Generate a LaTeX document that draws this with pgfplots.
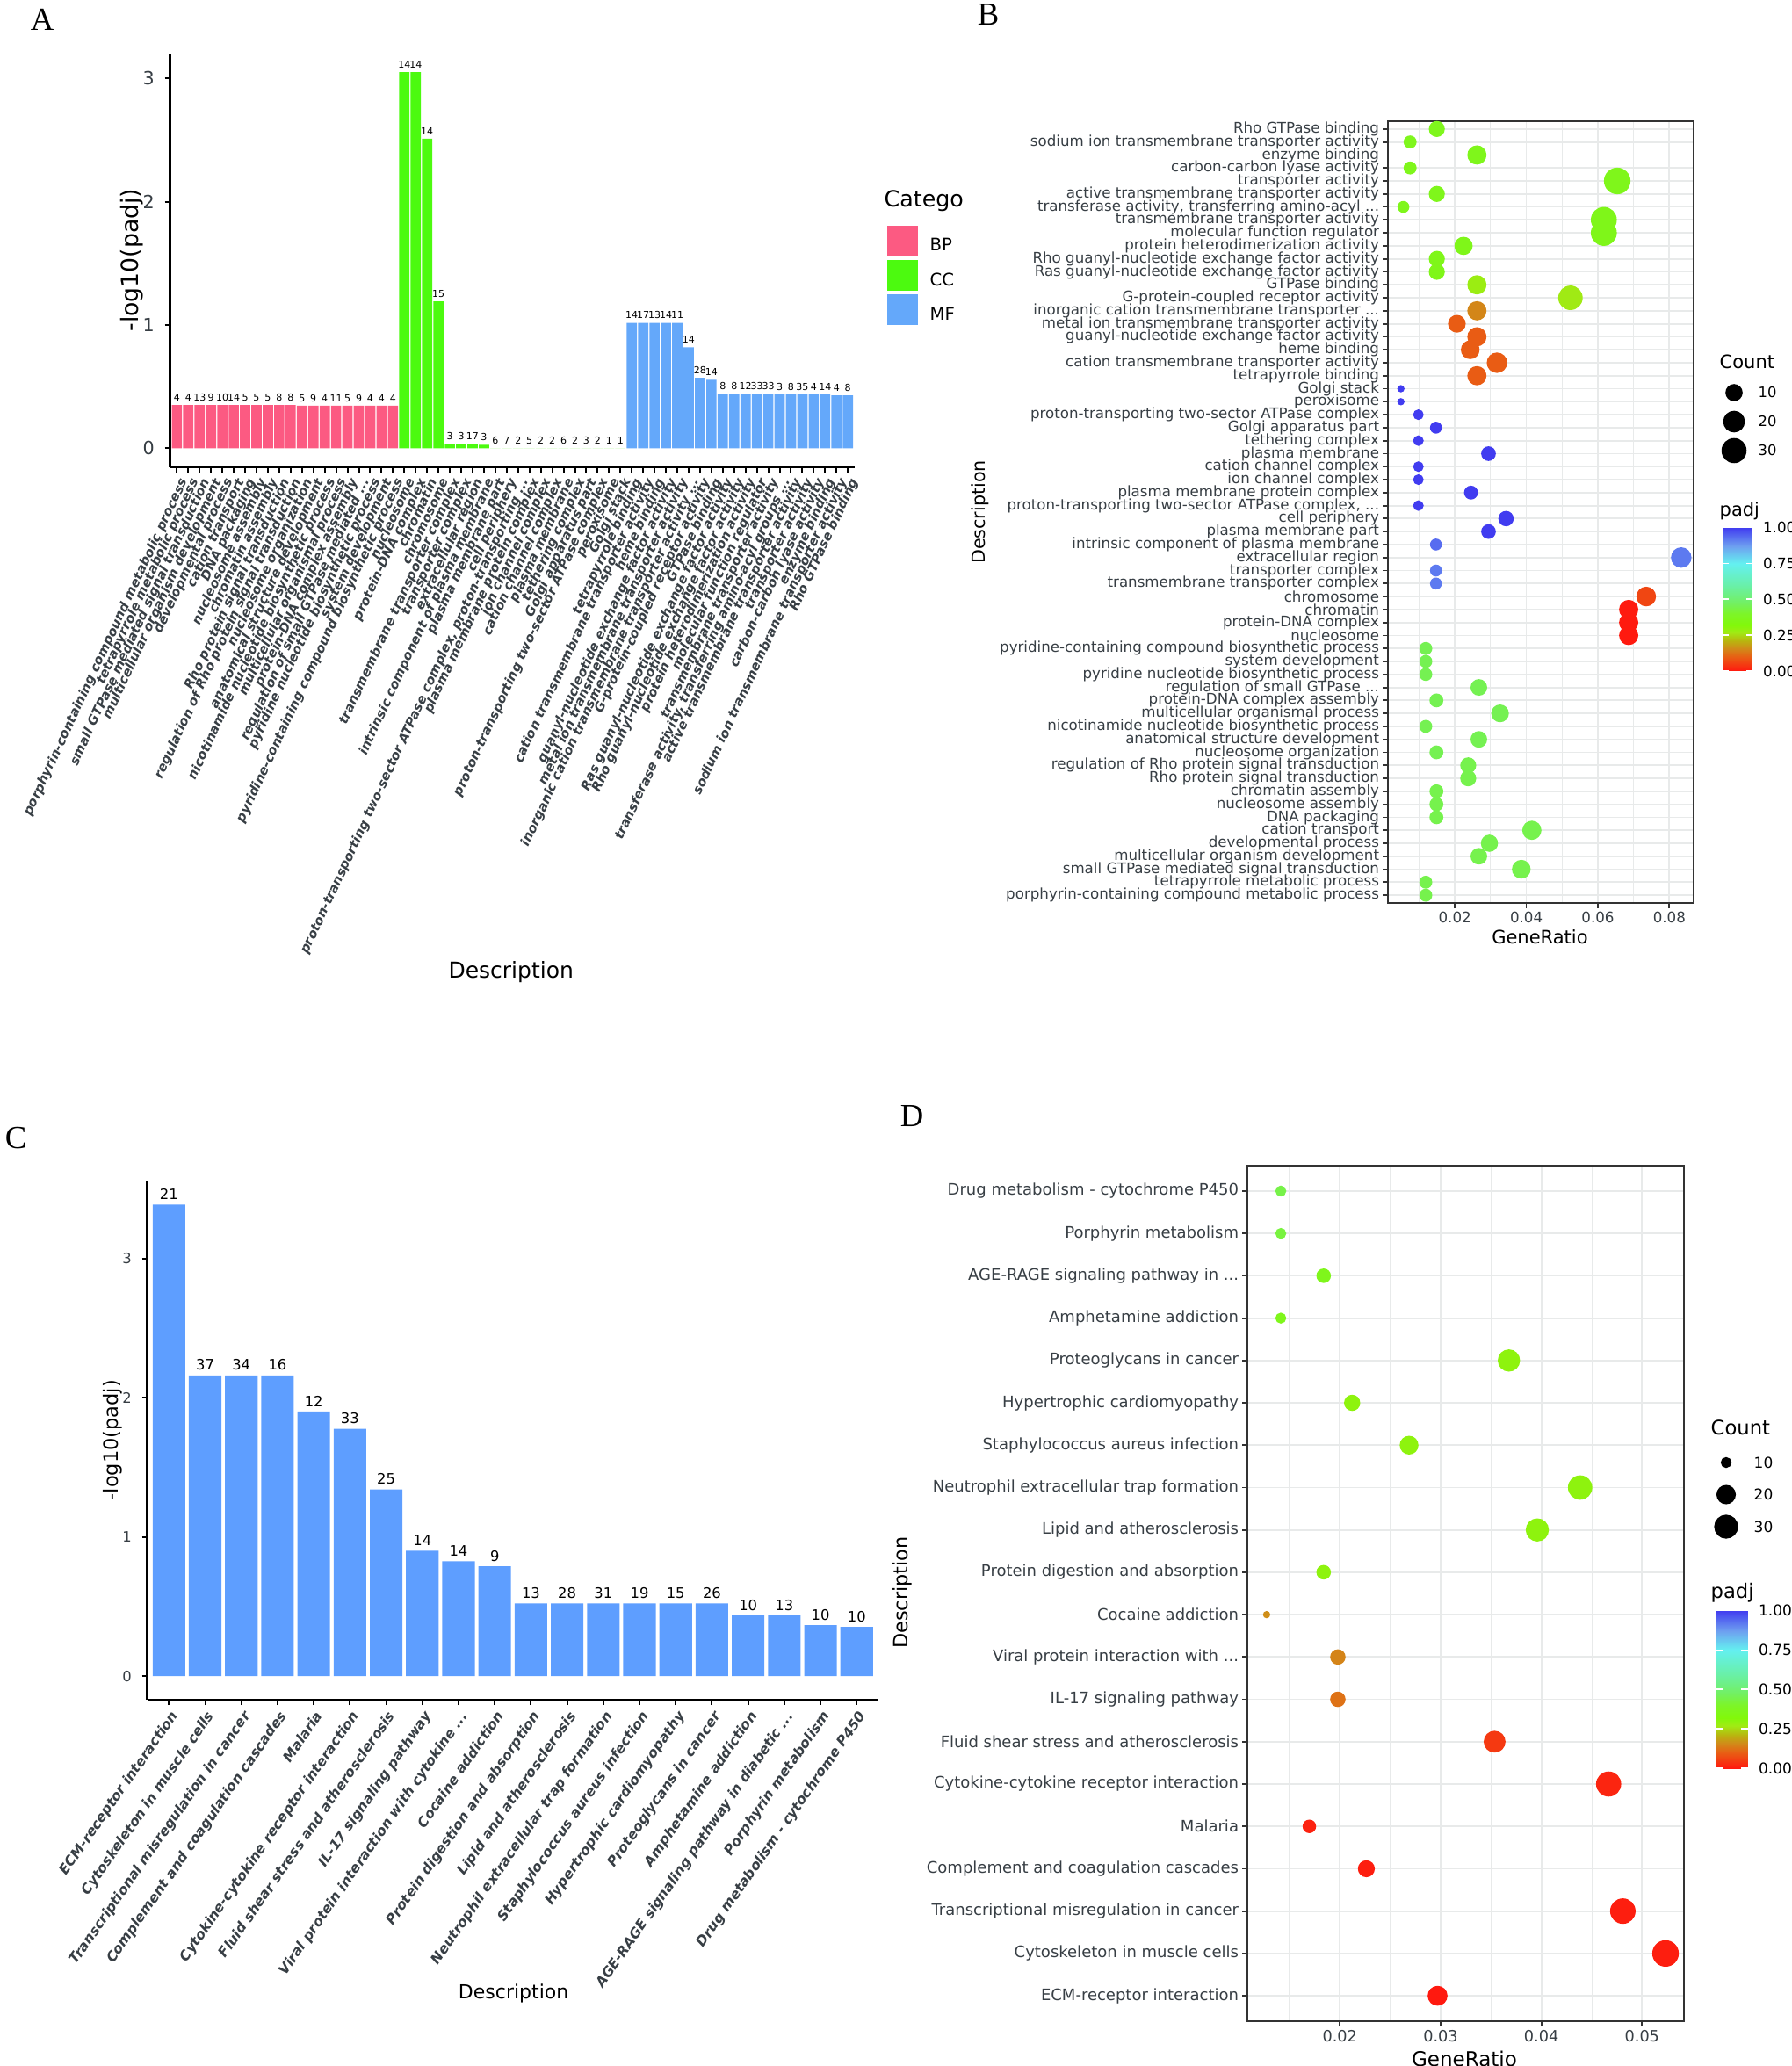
\documentclass[border=0pt]{standalone}
\usepackage{pgfplots}
\pgfplotsset{compat=1.18}
\usepackage{pgfplotstable}
\usepackage{fontspec}
\setmainfont{DejaVu Sans}[BoldFont={DejaVu Sans Bold}, ItalicFont={DejaVu Sans Oblique}, BoldItalicFont={DejaVu Sans Bold Oblique}]
\newfontfamily\lserif{Liberation Serif}
\newcommand\fs[1]{\fontsize{#1pt}{#1pt}\selectfont}
\newcommand\dts{...}

\definecolor{bpc}{RGB}{252,90,130}
\definecolor{ccc}{RGB}{76,250,15}
\definecolor{mfc}{RGB}{100,168,250}
\definecolor{keggc}{RGB}{94,158,255}
\definecolor{labc}{RGB}{55,62,68}
\definecolor{gridc}{RGB}{232,234,234}
\definecolor{grayt}{RGB}{51,51,51}

\pgfplotsset{colormap={padjmap}{rgb255(0pt)=(255,25,15); rgb255(10pt)=(232,95,20); rgb255(16pt)=(208,140,25); rgb255(21pt)=(185,180,15); rgb255(27pt)=(160,235,20); rgb255(32pt)=(130,248,10); rgb255(40pt)=(125,245,40); rgb255(47pt)=(115,240,95); rgb255(60pt)=(105,240,170); rgb255(75pt)=(100,240,240); rgb255(87pt)=(110,160,240); rgb255(100pt)=(65,60,240)}}

\pgfplotsset{
 dotB/.style={scatter, only marks, mark=*, point meta=explicit,
   scatter/use mapped color={draw=mapped color, fill=mapped color},
   visualization depends on={\thisrow{count}\as\cnt},
   scatter/@pre marker code/.append style={/tikz/mark size={1.035+3.3*sqrt((\cnt-1)/34)}}},
 dotD/.style={scatter, only marks, mark=*, point meta=explicit,
   scatter/use mapped color={draw=mapped color, fill=mapped color},
   visualization depends on={\thisrow{count}\as\cnt},
   scatter/@pre marker code/.append style={/tikz/mark size={1.035+3.3*sqrt((\cnt-9)/28)}}},
}

% GO terms: idx, -log10(padj), Count, GeneRatio, padj
\pgfplotstableread{
idx h count ratio padj
1 0.350 4 0.01187 0.447
2 0.350 4 0.01187 0.447
3 0.350 13 0.03858 0.447
4 0.350 9 0.02671 0.447
5 0.350 10 0.02967 0.447
6 0.350 14 0.04154 0.447
7 0.350 5 0.01484 0.447
8 0.350 5 0.01484 0.447
9 0.350 5 0.01484 0.447
10 0.350 8 0.02374 0.447
11 0.350 8 0.02374 0.447
12 0.344 5 0.01484 0.453
13 0.344 9 0.02671 0.453
14 0.344 4 0.01187 0.453
15 0.344 11 0.03264 0.453
16 0.344 5 0.01484 0.453
17 0.344 9 0.02671 0.453
18 0.344 4 0.01187 0.453
19 0.344 4 0.01187 0.453
20 0.344 4 0.01187 0.453
}\bptab

\pgfplotstableread{
idx h count ratio padj
21 3.05 14 0.06863 0.00089
22 3.05 14 0.06863 0.00089
23 2.51 14 0.06863 0.0031
24 1.19 15 0.07353 0.0646
25 0.036 3 0.01471 0.920
26 0.036 3 0.01471 0.920
27 0.036 17 0.08333 0.920
28 0.028 3 0.01471 0.937
29 0 6 0.02941 1
30 0 7 0.03431 1
31 0 2 0.00980 1
32 0 5 0.02451 1
33 0 2 0.00980 1
34 0 2 0.00980 1
35 0 6 0.02941 1
36 0 2 0.00980 1
37 0 3 0.01471 1
38 0 2 0.00980 1
39 0 1 0.00490 1
40 0 1 0.00490 1
}\cctab

\pgfplotstableread{
idx h count ratio padj
41 1.017 14 0.02617 0.0962
42 1.017 17 0.03178 0.0962
43 1.017 13 0.02430 0.0962
44 1.017 14 0.02617 0.0962
45 1.017 11 0.02056 0.0962
46 0.818 14 0.02617 0.152
47 0.571 28 0.05234 0.269
48 0.555 14 0.02617 0.279
49 0.443 8 0.01495 0.361
50 0.443 8 0.01495 0.361
51 0.443 12 0.02243 0.361
52 0.443 33 0.06168 0.361
53 0.443 33 0.06168 0.361
54 0.436 3 0.00561 0.366
55 0.436 8 0.01495 0.366
56 0.436 35 0.06542 0.366
57 0.436 4 0.00748 0.366
58 0.436 14 0.02617 0.366
59 0.429 4 0.00748 0.372
60 0.429 8 0.01495 0.372
}\mftab

% KEGG
\pgfplotstableread{
idx h count ratio padj
1 3.388 21 0.02970 0.00041
2 2.161 37 0.05233 0.0069
3 2.161 34 0.04809 0.0069
4 2.161 16 0.02263 0.0069
5 1.902 12 0.01697 0.0125
6 1.777 33 0.04668 0.0167
7 1.342 25 0.03536 0.0455
8 0.901 14 0.01980 0.1256
9 0.826 14 0.01980 0.1493
10 0.789 9 0.01273 0.1626
11 0.523 13 0.01839 0.2999
12 0.523 28 0.03960 0.2999
13 0.523 31 0.04385 0.2999
14 0.523 19 0.02687 0.2999
15 0.523 15 0.02122 0.2999
16 0.523 26 0.03678 0.2999
17 0.436 10 0.01414 0.3664
18 0.436 13 0.01839 0.3664
19 0.366 10 0.01414 0.4305
20 0.354 10 0.01414 0.4426
}\keggtab

\begin{document}
\begin{tikzpicture}
\useasboundingbox (0pt,0pt) rectangle (612pt,-705.6pt);

% ---------------- Panel A ----------------
\begin{axis}[
 at={(58.08pt,-159.51pt)}, anchor=south west,
 scale only axis, width=233.82pt, height=141.3pt,
 xmin=0.4, xmax=60.6, ymin=-0.1525, ymax=3.2025,
 axis x line*=bottom, axis y line*=left,
 axis line style={-, line width=0.75pt, black},
 tick align=outside, major tick length=1.8pt, tick style={black, line width=0.6pt},
 ybar, bar width=0.9, bar shift=0pt,
 xtick={1,2,...,60},
 xticklabels={porphyrin-containing compound metabolic process, tetrapyrrole metabolic process, small GTPase mediated signal transduction, multicellular organism development, developmental process, cation transport, DNA packaging, nucleosome assembly, chromatin assembly, Rho protein signal transduction, regulation of Rho protein signal transduction, nucleosome organization, anatomical structure development, nicotinamide nucleotide biosynthetic process, multicellular organismal process, protein-DNA complex assembly, {regulation of small GTPase mediated \dts}, pyridine nucleotide biosynthetic process, system development, pyridine-containing compound biosynthetic process, nucleosome, protein-DNA complex, chromatin, chromosome, transmembrane transporter complex, transporter complex, extracellular region, intrinsic component of plasma membrane, plasma membrane part, cell periphery, {proton-transporting two-sector ATPase complex, proton-transporting \dts}, plasma membrane protein complex, ion channel complex, cation channel complex, plasma membrane, tethering complex, Golgi apparatus part, proton-transporting two-sector ATPase complex, peroxisome, Golgi stack, tetrapyrrole binding, cation transmembrane transporter activity, heme binding, guanyl-nucleotide exchange factor activity, metal ion transmembrane transporter activity, {inorganic cation transmembrane transporter activity \dts}, G-protein-coupled receptor activity, GTPase binding, Ras guanyl-nucleotide exchange factor activity, Rho guanyl-nucleotide exchange factor activity, protein heterodimerization activity, molecular function regulator, transmembrane transporter activity, {transferase activity, transferring amino-acyl groups \dts}, active transmembrane transporter activity, transporter activity, carbon-carbon lyase activity, enzyme binding, sodium ion transmembrane transporter activity, Rho GTPase binding},
 xticklabel style={rotate=65, anchor=north east, inner sep=1pt, text=labc, font=\bfseries\itshape\fs{4.4}},
 ytick={0,1,2,3}, yticklabels={0,1,2,3},
 yticklabel style={text=labc, font=\fs{6.2}},
 ylabel={-log10(padj)}, ylabel style={at={(axis description cs:-0.056,0.5)}, anchor=center, font=\fs{8}},
 xlabel={Description}, xlabel style={at={(axis description cs:0.498,-1.2215)}, anchor=center, font=\fs{7.5}},
 nodes near coords, point meta=explicit symbolic,
 every node near coord/.append style={font=\fs{3.3}, inner sep=1.2pt, text=black},
 legend style={at={(axis description cs:1.0462,0.5854)}, anchor=north west, draw=none, fill=none, inner sep=0pt, font=\fs{5.9}, row sep=-0.5pt, column sep=2.2pt},
 legend cell align=left,
]
\addplot[fill=bpc, draw=none, legend image code/.code={\fill[bpc] (0pt,-3.1pt) rectangle (10.5pt,7.4pt);}] table[x=idx, y=h, meta=count] {\bptab};
\addlegendentry{BP}
\addplot[fill=ccc, draw=none, legend image code/.code={\fill[ccc] (0pt,-3.1pt) rectangle (10.5pt,7.4pt);}] table[x=idx, y=h, meta=count] {\cctab};
\addlegendentry{CC}
\addplot[fill=mfc, draw=none, legend image code/.code={\fill[mfc] (0pt,-3.1pt) rectangle (10.5pt,7.4pt);}] table[x=idx, y=h, meta=count] {\mftab};
\addlegendentry{MF}
\end{axis}
\node[anchor=west, inner sep=0pt, font=\fs{7.6}] at (301.8pt,-68.7pt) {Catego};

% ---------------- Panel B ----------------
\begin{axis}[
 at={(474pt,-308.4pt)}, anchor=south west,
 scale only axis, width=104.4pt, height=267pt,
 xmin=0.00128, xmax=0.0868, ymin=0.4, ymax=60.6,
 axis line style={line width=0.55pt, grayt},
 grid=both, major grid style={line width=0.55pt, gridc}, minor grid style={line width=0.28pt, gridc},
 xtick={0.02,0.04,0.06,0.08}, xticklabels={0.02,0.04,0.06,0.08}, minor xtick={0.01,0.03,0.05,0.07},
 scaled x ticks=false,
 ytick={1,2,...,60},
 yticklabels={porphyrin-containing compound metabolic process, tetrapyrrole metabolic process, small GTPase mediated signal transduction, multicellular organism development, developmental process, cation transport, DNA packaging, nucleosome assembly, chromatin assembly, Rho protein signal transduction, regulation of Rho protein signal transduction, nucleosome organization, anatomical structure development, nicotinamide nucleotide biosynthetic process, multicellular organismal process, protein-DNA complex assembly, {regulation of small GTPase \dts}, pyridine nucleotide biosynthetic process, system development, pyridine-containing compound biosynthetic process, nucleosome, protein-DNA complex, chromatin, chromosome, transmembrane transporter complex, transporter complex, extracellular region, intrinsic component of plasma membrane, plasma membrane part, cell periphery, {proton-transporting two-sector ATPase complex, \dts}, plasma membrane protein complex, ion channel complex, cation channel complex, plasma membrane, tethering complex, Golgi apparatus part, proton-transporting two-sector ATPase complex, peroxisome, Golgi stack, tetrapyrrole binding, cation transmembrane transporter activity, heme binding, guanyl-nucleotide exchange factor activity, metal ion transmembrane transporter activity, {inorganic cation transmembrane transporter \dts}, G-protein-coupled receptor activity, GTPase binding, Ras guanyl-nucleotide exchange factor activity, Rho guanyl-nucleotide exchange factor activity, protein heterodimerization activity, molecular function regulator, transmembrane transporter activity, {transferase activity, transferring amino-acyl \dts}, active transmembrane transporter activity, transporter activity, carbon-carbon lyase activity, enzyme binding, sodium ion transmembrane transporter activity, Rho GTPase binding},
 tick pos=left, tick align=outside, major tick length=1.8pt, minor tick length=0pt, tick style={grayt, line width=0.55pt},
 xticklabel style={font=\fs{5}, text=labc, inner sep=1pt},
 yticklabel style={font=\fs{5}, text=labc, inner sep=1pt},
 xlabel={GeneRatio}, xlabel style={at={(axis description cs:0.497,-0.0438)}, anchor=center, font=\fs{6.3}},
 ylabel={Description}, ylabel style={at={(axis description cs:-1.333,0.5)}, anchor=center, font=\fs{6.2}},
 colormap name=padjmap, point meta min=0, point meta max=1,
 colorbar,
 colorbar style={at={(parent axis.north east)}, anchor=north west, xshift=1.6pt, yshift=-138.8pt,
   scale only axis, width=9.9pt, height=49pt,
   ytick={0,0.25,0.5,0.75,1}, yticklabels={0.00,0.25,0.50,0.75,1.00},
   yticklabel style={font=\fs{5}, text=black, inner sep=1pt, xshift=2.5pt},
   tick align=inside, major tick length=2pt, tick style={white, line width=0.5pt},
   ytick pos=both, yticklabel pos=right, axis line style={draw=none}},
]
\addplot[dotB] table[x=ratio, y=idx, meta=padj] {\bptab};
\addplot[dotB] table[x=ratio, y=idx, meta=padj] {\cctab};
\addplot[dotB] table[x=ratio, y=idx, meta=padj] {\mftab};
\end{axis}
\node[anchor=west, inner sep=0pt, font=\fs{6.3}] at (587.1pt,-123.6pt) {Count};
\node[anchor=west, inner sep=0pt, font=\fs{6.3}] at (587.1pt,-174.6pt) {padj};
\begin{axis}[at={(587.7pt,-153.9pt)}, anchor=south west, scale only axis, width=9pt, height=19.8pt, hide axis, clip=false, xmin=-1, xmax=1, ymin=1, ymax=3]
\addplot[scatter, only marks, mark=*, point meta=y, scatter/use mapped color={draw=black, fill=black}, visualization depends on={\thisrow{count}\as\cnt}, scatter/@pre marker code/.append style={/tikz/mark size={1.035+3.3*sqrt((\cnt-1)/34)}}] table[x=x, y=pos, row sep=\\] {x pos count\\ 0 3 10\\ 0 2 20\\ 0 1 30\\};
\end{axis}
\node[anchor=west, inner sep=0pt, font=\fs{4.9}] at (600.3pt,-134.1pt) {10};
\node[anchor=west, inner sep=0pt, font=\fs{4.9}] at (600.3pt,-144pt) {20};
\node[anchor=west, inner sep=0pt, font=\fs{4.9}] at (600.3pt,-153.9pt) {30};

% ---------------- Panel C ----------------
\begin{axis}[
 at={(50.28pt,-580.5pt)}, anchor=south west,
 scale only axis, width=249.72pt, height=177.15pt,
 xmin=0.4, xmax=20.6, ymin=-0.169, ymax=3.557,
 axis x line*=bottom, axis y line*=left,
 axis line style={-, line width=0.75pt, black},
 tick align=outside, major tick length=1.8pt, tick style={black, line width=0.6pt},
 ybar, bar width=0.9, bar shift=0pt,
 xtick={1,2,...,20},
 xticklabels={ECM-receptor interaction, Cytoskeleton in muscle cells, Transcriptional misregulation in cancer, Complement and coagulation cascades, Malaria, Cytokine-cytokine receptor interaction, Fluid shear stress and atherosclerosis, IL-17 signaling pathway, {Viral protein interaction with cytokine \dts}, Cocaine addiction, Protein digestion and absorption, Lipid and atherosclerosis, Neutrophil extracellular trap formation, Staphylococcus aureus infection, Hypertrophic cardiomyopathy, Proteoglycans in cancer, Amphetamine addiction, {AGE-RAGE signaling pathway in diabetic \dts}, Porphyrin metabolism, Drug metabolism - cytochrome P450},
 xticklabel style={rotate=55, anchor=north east, inner sep=1pt, text=labc, font=\bfseries\itshape\fs{4.7}},
 ytick={0,1,2,3}, yticklabels={0,1,2,3},
 yticklabel style={text=labc, font=\fs{4.9}},
 ylabel={-log10(padj)}, ylabel style={at={(axis description cs:-0.0476,0.5)}, anchor=center, font=\fs{6.75}},
 xlabel={Description}, xlabel style={at={(axis description cs:0.501,-0.567)}, anchor=center, font=\fs{6.6}},
 nodes near coords, point meta=explicit symbolic,
 every node near coord/.append style={font=\fs{4.9}, inner sep=1.5pt, text=black},
]
\addplot[fill=keggc, draw=none] table[x=idx, y=h, meta=count] {\keggtab};
\end{axis}

% ---------------- Panel D ----------------
\begin{axis}[
 at={(426pt,-690.3pt)}, anchor=south west,
 scale only axis, width=149.1pt, height=292.2pt,
 xmin=0.01082, xmax=0.05416, ymin=0.4, ymax=20.6,
 axis line style={line width=0.55pt, grayt},
 grid=both, major grid style={line width=0.55pt, gridc}, minor grid style={line width=0.28pt, gridc},
 xtick={0.02,0.03,0.04,0.05}, xticklabels={0.02,0.03,0.04,0.05}, minor xtick={0.015,0.025,0.035,0.045},
 scaled x ticks=false,
 ytick={1,2,...,20},
 yticklabels={ECM-receptor interaction, Cytoskeleton in muscle cells, Transcriptional misregulation in cancer, Complement and coagulation cascades, Malaria, Cytokine-cytokine receptor interaction, Fluid shear stress and atherosclerosis, IL-17 signaling pathway, {Viral protein interaction with \dts}, Cocaine addiction, Protein digestion and absorption, Lipid and atherosclerosis, Neutrophil extracellular trap formation, Staphylococcus aureus infection, Hypertrophic cardiomyopathy, Proteoglycans in cancer, Amphetamine addiction, {AGE-RAGE signaling pathway in \dts}, Porphyrin metabolism, Drug metabolism - cytochrome P450},
 tick pos=left, tick align=outside, major tick length=1.8pt, minor tick length=0pt, tick style={grayt, line width=0.55pt},
 xticklabel style={font=\fs{5.3}, text=labc, inner sep=1pt},
 yticklabel style={font=\fs{5.4}, text=labc, inner sep=1pt},
 xlabel={GeneRatio}, xlabel style={at={(axis description cs:0.497,-0.0441)}, anchor=center, font=\fs{6.9}},
 ylabel={Description}, ylabel style={at={(axis description cs:-0.791,0.501)}, anchor=center, font=\fs{6.7}},
 colormap name=padjmap, point meta min=0, point meta max=1,
 colorbar,
 colorbar style={at={(parent axis.north east)}, anchor=north west, xshift=2.5pt, yshift=-151.95pt,
   scale only axis, width=10.8pt, height=53.85pt,
   ytick={0,0.25,0.5,0.75,1}, yticklabels={0.00,0.25,0.50,0.75,1.00},
   yticklabel style={font=\fs{5.1}, text=black, inner sep=1pt, xshift=2.5pt},
   tick align=inside, major tick length=2.2pt, tick style={white, line width=0.5pt},
   ytick pos=both, yticklabel pos=right, axis line style={draw=none}},
]
\addplot[dotD] table[x=ratio, y=idx, meta=padj] {\keggtab};
\end{axis}
\node[anchor=west, inner sep=0pt, font=\fs{6.8}] at (584.1pt,-487.5pt) {Count};
\node[anchor=west, inner sep=0pt, font=\fs{6.8}] at (584.1pt,-543.9pt) {padj};
\begin{axis}[at={(585pt,-521.4pt)}, anchor=south west, scale only axis, width=9pt, height=21.9pt, hide axis, clip=false, xmin=-1, xmax=1, ymin=1, ymax=3]
\addplot[scatter, only marks, mark=*, point meta=y, scatter/use mapped color={draw=black, fill=black}, visualization depends on={\thisrow{count}\as\cnt}, scatter/@pre marker code/.append style={/tikz/mark size={1.035+3.3*sqrt((\cnt-9)/28)}}] table[x=x, y=pos, row sep=\\] {x pos count\\ 0 3 10\\ 0 2 20\\ 0 1 30\\};
\end{axis}
\node[anchor=west, inner sep=0pt, font=\fs{5.1}] at (598.8pt,-499.5pt) {10};
\node[anchor=west, inner sep=0pt, font=\fs{5.1}] at (598.8pt,-510.3pt) {20};
\node[anchor=west, inner sep=0pt, font=\fs{5.1}] at (598.8pt,-521.4pt) {30};

% panel letters
\node[font=\lserif\fs{11}] at (14.4pt,-6.75pt) {A};
\node[font=\lserif\fs{11}] at (337.5pt,-4.95pt) {B};
\node[font=\lserif\fs{11}] at (5.4pt,-388.8pt) {C};
\node[font=\lserif\fs{11}] at (311.4pt,-381.15pt) {D};
\end{tikzpicture}
\end{document}
